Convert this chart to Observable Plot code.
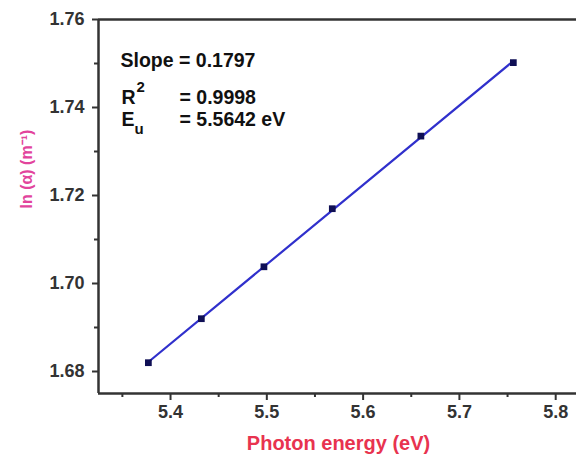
<!DOCTYPE html>
<html>
<head>
<meta charset="utf-8">
<script src="https://cdn.jsdelivr.net/npm/d3@7"></script>
<script src="https://cdn.jsdelivr.net/npm/@observablehq/plot@0.6"></script>
<style>
  html, body { margin: 0; padding: 0; background: #fff; }
</style>
</head>
<body>
<div id="chart"></div>
<script>
// Data
const energy = [5.377, 5.432, 5.497, 5.568, 5.660, 5.756];
const lnAlpha = [1.682, 1.692, 1.7038, 1.717, 1.7335, 1.7502];
const xTicks = [5.4, 5.5, 5.6, 5.7, 5.8];
const xMinor = [5.35, 5.45, 5.55, 5.65, 5.75];
const yTicks = [1.68, 1.70, 1.72, 1.74, 1.76];
const yMinor = [1.69, 1.71, 1.73, 1.75];
const xDomain = [5.3252, 5.8216];
const yDomain = [1.675, 1.76];
const slopeText = "Slope = 0.1797";
const r2Value = "= 0.9998";
const euValue = "= 5.5642 eV";

const points = energy.map((x, i) => ({x, y: lnAlpha[i]}));

const font = "Liberation Sans, Arial, sans-serif";
const axisColor = "#333";

const chart = Plot.plot({
  width: 576,
  height: 462,
  marginLeft: 98,
  marginRight: 0,
  marginTop: 19,
  marginBottom: 69,
  style: {fontFamily: font, fontWeight: "bold", background: "#fff", overflow: "visible"},
  x: {domain: xDomain},
  y: {domain: yDomain},
  marks: [
    // frame lines
    Plot.ruleY([yDomain[0]], {stroke: axisColor, strokeWidth: 2.5}),
    Plot.ruleY([yDomain[1]], {stroke: axisColor, strokeWidth: 2.5}),
    Plot.ruleX([xDomain[0]], {stroke: axisColor, strokeWidth: 2.5}),
    // axes
    Plot.axisX(xTicks, {tickSize: 7, tickPadding: 5, tickFormat: d3.format(".1f"), fontSize: 18, fill: axisColor, stroke: axisColor, strokeWidth: 2, label: null}),
    Plot.axisX(xMinor, {tickSize: 4, text: null, stroke: axisColor, strokeWidth: 2, label: null}),
    Plot.axisY(yTicks, {tickSize: 6, tickPadding: 8, tickFormat: d3.format(".2f"), fontSize: 18, fill: axisColor, stroke: axisColor, strokeWidth: 2, label: null}),
    Plot.axisY(yMinor, {tickSize: 4, text: null, stroke: axisColor, strokeWidth: 2, label: null}),
    // axis labels
    Plot.text(["Photon energy (eV)"], {frameAnchor: "bottom", dy: 56, fontSize: 20, fill: "#e8334f", fontWeight: "bold", dx: 1}),
    Plot.text(["ln (α) (m⁻¹)"], {frameAnchor: "left", dx: -72, dy: 2, rotate: -90, fontSize: 16, fill: "#e2449c", fontWeight: "bold"}),
    // fit line and data
    Plot.linearRegressionY(points, {x: "x", y: "y", ci: 0, stroke: "#3030cc", strokeWidth: 2.2}),
    Plot.dot(points, {x: "x", y: "y", symbol: "square", r: 3.8, fill: "#0f0f55", stroke: "none"}),
    // annotation
    Plot.text([slopeText], {frameAnchor: "top-left", textAnchor: "start", dx: 22, dy: 34, fontSize: 19.5, fill: "#111"}),
    Plot.text(["R"], {frameAnchor: "top-left", textAnchor: "start", dx: 23, dy: 71, fontSize: 19.5, fill: "#111"}),
    Plot.text(["2"], {frameAnchor: "top-left", textAnchor: "start", dx: 38, dy: 62, fontSize: 15, fill: "#111"}),
    Plot.text([r2Value], {frameAnchor: "top-left", textAnchor: "start", dx: 81, dy: 71, fontSize: 19.5, fill: "#111"}),
    Plot.text(["E"], {frameAnchor: "top-left", textAnchor: "start", dx: 23, dy: 93, fontSize: 19.5, fill: "#111"}),
    Plot.text(["u"], {frameAnchor: "top-left", textAnchor: "start", dx: 36, dy: 104, fontSize: 15, fill: "#111"}),
    Plot.text([euValue], {frameAnchor: "top-left", textAnchor: "start", dx: 81, dy: 93, fontSize: 19.5, fill: "#111"})
  ]
});

document.getElementById("chart").appendChild(chart);
</script>
</body>
</html>
